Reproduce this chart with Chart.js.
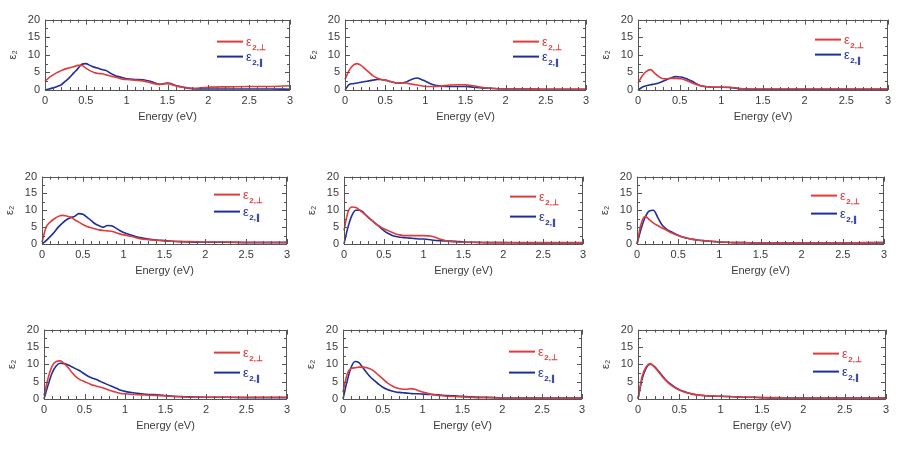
<!DOCTYPE html>
<html>
<head>
<meta charset="utf-8">
<script src="https://cdn.jsdelivr.net/npm/chart.js@4.4.1/dist/chart.umd.min.js"></script>
<style>
html,body{margin:0;padding:0;background:#fff;}
body{width:909px;height:450px;position:relative;overflow:hidden;}
canvas{position:absolute;}
</style>
</head>
<body>
<script>
// ---------------- DATA ----------------
const energy = [0,0.05,0.1,0.15,0.2,0.25,0.3,0.35,0.4,0.45,0.5,0.55,0.6,0.65,0.7,0.75,0.8,0.85,0.9,0.95,1.0,1.1,1.2,1.3,1.4,1.5,1.6,1.7,1.8,2.0,2.25,2.5,2.75,3.0];
const xTicks = [0,0.5,1,1.5,2,2.5,3];
const xTickLabels = ['0','0.5','1','1.5','2','2.5','3'];
const yTicks = [0,5,10,15,20];
const yTickLabels = ['0','5','10','15','20'];
const seriesLabels = ['ε2,⊥','ε2,∥'];

const p1Perp = [2.5,3.5,4.3,5.0,5.5,6.0,6.3,6.6,7.0,7.0,6.2,5.5,5.0,4.7,4.6,4.3,4.0,3.7,3.4,3.1,3.0,2.8,2.6,2.0,1.6,1.8,1.2,0.7,0.5,0.8,0.9,1.0,1.0,1.2];
const p1Para = [0,0.3,0.6,1.0,1.5,2.5,3.5,4.8,6.0,7.3,7.5,7.0,6.5,6.2,5.8,5.5,4.8,4.2,3.8,3.5,3.2,3.0,2.9,2.4,1.6,2.0,1.3,0.8,0.4,0.3,0.3,0.3,0.3,0.2];
const p2Perp = [3.0,5.5,7.0,7.5,7.0,6.0,5.0,4.0,3.4,3.0,2.8,2.5,2.2,2.0,2.0,2.0,1.8,1.6,1.4,1.2,1.0,1.0,1.1,1.4,1.5,1.5,1.2,0.8,0.5,0.3,0.3,0.2,0.2,0.2];
const p2Para = [0,1.5,1.8,2.0,2.2,2.4,2.6,2.8,3.0,3.0,2.8,2.5,2.2,2.0,2.0,2.2,2.7,3.2,3.4,3.0,2.5,1.5,1.1,1.0,1.0,1.0,0.8,0.6,0.5,0.3,0.3,0.2,0.2,0.2];
const p3Perp = [2.0,4.0,5.3,5.8,4.8,3.8,3.2,3.2,3.3,3.3,3.2,3.0,2.5,2.0,1.6,1.2,1.0,0.9,0.8,0.8,0.8,0.8,0.5,0.3,0.3,0.3,0.3,0.3,0.3,0.3,0.3,0.3,0.3,0.3];
const p3Para = [0,0.8,1.2,1.5,1.7,2.0,2.5,3.0,3.5,3.8,3.7,3.5,3.0,2.5,1.8,1.2,1.0,0.9,0.8,0.8,0.8,0.7,0.4,0.3,0.2,0.2,0.2,0.2,0.2,0.2,0.2,0.2,0.2,0.2];
const p4Perp = [0.5,5.0,6.5,7.5,8.2,8.5,8.3,8.0,7.2,6.5,5.8,5.2,4.8,4.5,4.2,4.0,3.9,3.8,3.4,3.0,2.7,2.2,1.6,1.3,1.1,0.9,0.8,0.7,0.7,0.6,0.6,0.5,0.5,0.5];
const p4Para = [0,1.0,2.2,3.5,5.0,6.2,7.2,7.8,8.2,9.0,8.8,8.0,7.0,6.0,5.4,5.0,5.5,5.4,4.8,4.0,3.4,2.6,1.9,1.5,1.2,1.0,0.8,0.7,0.6,0.5,0.5,0.4,0.4,0.4];
const p5Perp = [4.0,9.5,11.0,10.8,10.0,9.0,8.0,7.0,6.0,5.2,4.5,4.0,3.5,3.0,2.7,2.5,2.5,2.5,2.5,2.5,2.5,2.3,1.5,0.8,0.6,0.5,0.5,0.4,0.4,0.4,0.4,0.4,0.4,0.4];
const p5Para = [0,5.0,8.5,10.0,10.0,9.2,8.0,7.0,6.0,5.0,4.0,3.2,2.6,2.2,2.0,1.9,1.8,1.7,1.6,1.5,1.5,1.2,1.0,0.9,0.8,0.6,0.5,0.5,0.4,0.4,0.3,0.3,0.3,0.3];
const p6Perp = [0,6.0,8.2,7.2,6.2,5.5,4.8,4.2,3.5,3.0,2.5,2.1,1.8,1.5,1.3,1.1,1.0,0.9,0.8,0.7,0.6,0.5,0.4,0.4,0.3,0.3,0.3,0.3,0.3,0.3,0.3,0.3,0.4,0.5];
const p6Para = [0,4.5,8.0,9.8,10.0,8.0,5.8,4.6,3.8,3.2,2.6,2.1,1.8,1.5,1.3,1.1,1.0,0.9,0.8,0.7,0.6,0.5,0.4,0.4,0.3,0.3,0.3,0.3,0.3,0.3,0.3,0.3,0.3,0.3];
const p7Perp = [1.0,6.0,9.5,10.8,11.0,10.2,9.0,7.5,6.3,5.5,5.0,4.5,4.0,3.7,3.4,3.0,2.6,2.2,1.9,1.6,1.5,1.3,1.2,1.1,1.0,0.9,0.7,0.6,0.5,0.5,0.5,0.5,0.5,0.5];
const p7Para = [0,4.0,7.5,9.5,10.3,10.2,9.8,9.2,8.6,8.0,7.2,6.5,6.0,5.6,5.0,4.5,4.0,3.5,3.0,2.5,2.2,1.8,1.5,1.3,1.2,1.0,0.8,0.7,0.6,0.5,0.5,0.4,0.4,0.4];
const p8Perp = [2.0,7.0,8.8,9.0,9.2,9.2,9.0,8.6,7.8,6.8,5.8,4.8,4.0,3.4,3.0,2.8,2.8,3.0,2.8,2.4,2.0,1.4,1.0,0.8,0.7,0.6,0.5,0.4,0.4,0.3,0.3,0.3,0.3,0.3];
const p8Para = [0,5.0,9.0,10.8,10.5,9.0,7.5,6.2,5.2,4.2,3.4,2.8,2.4,2.1,1.9,1.8,1.7,1.6,1.5,1.5,1.4,1.3,1.2,1.0,0.9,0.8,0.6,0.5,0.5,0.3,0.3,0.3,0.3,0.3];
const p9Perp = [0,6.5,9.3,10.2,9.2,7.8,6.3,5.0,4.0,3.2,2.6,2.1,1.7,1.4,1.2,1.1,1.0,0.9,0.9,0.8,0.8,0.7,0.6,0.5,0.5,0.4,0.4,0.4,0.3,0.3,0.3,0.3,0.3,0.3];
const p9Para = [0,5.8,9.0,10.0,9.3,8.0,6.5,5.2,4.2,3.3,2.7,2.2,1.8,1.5,1.3,1.1,1.0,0.9,0.9,0.8,0.8,0.7,0.6,0.5,0.5,0.4,0.3,0.3,0.3,0.3,0.3,0.3,0.3,0.3];

// ---------------- LAYOUT (plot areas in page px) ----------------
const panels = [
  {L:45,  T:16,  R:290, B:90,  perp:p1Perp, para:p1Para, ly:[22,37]},
  {L:345, T:16,  R:586, B:90,  perp:p2Perp, para:p2Para, ly:[22,37]},
  {L:638, T:16,  R:888, B:90,  perp:p3Perp, para:p3Para, ly:[20,35]},
  {L:42,  T:173, R:287, B:244, perp:p4Perp, para:p4Para, ly:[18,35]},
  {L:344, T:173, R:583, B:244, perp:p5Perp, para:p5Para, ly:[20,40]},
  {L:637, T:173, R:884, B:244, perp:p6Perp, para:p6Para, ly:[19,37]},
  {L:44,  T:326, R:287, B:399, perp:p7Perp, para:p7Para, ly:[23,43]},
  {L:343, T:326, R:582, B:399, perp:p8Perp, para:p8Para, ly:[22,43]},
  {L:638, T:326, R:886, B:399, perp:p9Perp, para:p9Para, ly:[24,42]}
];
const RED = '#e03c3c', BLUE = '#1e2f9c', TXT = '#3a3a3a', FRAME = '#555';
const FONT = 'Liberation Sans, Arial, Helvetica, sans-serif';
const YW = 45, XH = 34, PT = 8, PR = 8;

const framePlugin = {
  id: 'frame',
  afterDatasetsDraw(chart) {
    const {ctx, chartArea: a, scales} = chart;
    ctx.save();
    ctx.strokeStyle = FRAME; ctx.lineWidth = 1;
    ctx.strokeRect(Math.round(a.left) + 0.5, Math.round(a.top) + 0.5, Math.round(a.right - a.left) - 1, Math.round(a.bottom - a.top));
    ctx.beginPath();
    for (let k = 0; k <= 30; k++) {
      const v = k / 10;
      const px = Math.round(scales.x.getPixelForValue(v)) + 0.5;
      const len = (k % 5 === 0) ? 5 : 3;
      ctx.moveTo(px, a.bottom); ctx.lineTo(px, a.bottom - len);
      ctx.moveTo(px, a.top); ctx.lineTo(px, a.top + len);
    }
    for (let k = 0; k <= 8; k++) {
      const v = k * 2.5;
      const py = Math.round(scales.y.getPixelForValue(v)) + 0.5;
      const len = (k % 2 === 0) ? 5 : 3;
      ctx.moveTo(a.left, py); ctx.lineTo(a.left + len, py);
      ctx.moveTo(a.right, py); ctx.lineTo(a.right - len, py);
    }
    ctx.stroke();
    ctx.restore();
  }
};

const legendPlugin = {
  id: 'subLegend',
  afterDraw(chart, args, opts) {
    const {ctx, chartArea: a} = chart;
    ctx.save();
    chart.data.datasets.forEach((ds, i) => {
      const y = a.top + opts.ly[i];
      ctx.strokeStyle = ds.borderColor; ctx.lineWidth = 2;
      ctx.beginPath(); ctx.moveTo(a.right - 73, y); ctx.lineTo(a.right - 47, y); ctx.stroke();
      ctx.fillStyle = ds.borderColor;
      ctx.textBaseline = 'alphabetic';
      ctx.font = '13px ' + FONT;
      ctx.fillText('ε', a.right - 44, y + 4);
      const w = ctx.measureText('ε').width;
      ctx.font = 'bold 8px ' + FONT;
      ctx.fillText(i === 0 ? '2,⊥' : '2,∥', a.right - 44 + w + 0.5, y + 8);
    });
    ctx.restore();
  }
};

panels.forEach((p) => {
  const c = document.createElement('canvas');
  const w = (p.R - p.L) + YW + PR, h = (p.B - p.T) + PT + XH;
  c.width = w; c.height = h;
  c.style.left = (p.L - YW) + 'px'; c.style.top = (p.T - PT) + 'px';
  c.style.width = w + 'px'; c.style.height = h + 'px';
  document.body.appendChild(c);
  const mk = (vals, color, label) => ({
    label, data: energy.map((e, i) => ({x: e, y: vals[i]})),
    borderColor: color, backgroundColor: color, borderWidth: 1.6,
    pointRadius: 0, fill: false, cubicInterpolationMode: 'monotone', clip: 3
  });
  new Chart(c, {
    type: 'line',
    data: {datasets: [mk(p.perp, RED, seriesLabels[0]), mk(p.para, BLUE, seriesLabels[1])]},
    options: {
      animation: false, responsive: false, devicePixelRatio: 1,
      layout: {padding: {top: PT, right: PR, left: 0, bottom: 0}},
      plugins: {legend: {display: false}, tooltip: {enabled: false}, subLegend: {ly: p.ly}},
      scales: {
        x: {
          type: 'linear', min: 0, max: 3,
          afterBuildTicks(s) { s.ticks = xTicks.map(v => ({value: v})); },
          ticks: {color: TXT, font: {family: FONT, size: 11}, padding: 4, maxRotation: 0, autoSkip: false,
                  callback: (v) => xTickLabels[xTicks.indexOf(v)] ?? String(v)},
          grid: {display: false, drawTicks: false}, border: {display: false},
          title: {display: true, text: 'Energy (eV)', color: TXT, font: {family: FONT, size: 11}, padding: {top: 1, bottom: 0}},
          afterFit(s) { s.height = XH; }
        },
        y: {
          type: 'linear', min: 0, max: 20,
          afterBuildTicks(s) { s.ticks = yTicks.map(v => ({value: v})); },
          ticks: {color: TXT, font: {family: FONT, size: 11}, padding: 5,
                  callback: (v) => yTickLabels[yTicks.indexOf(v)] ?? String(v)},
          grid: {display: false, drawTicks: false}, border: {display: false},
          title: {display: true, text: 'ε₂', color: TXT, font: {family: FONT, size: 11}, padding: {top: 6, bottom: 0}},
          afterFit(s) { s.width = YW; }
        }
      }
    },
    plugins: [framePlugin, legendPlugin]
  });
});
</script>
</body>
</html>
